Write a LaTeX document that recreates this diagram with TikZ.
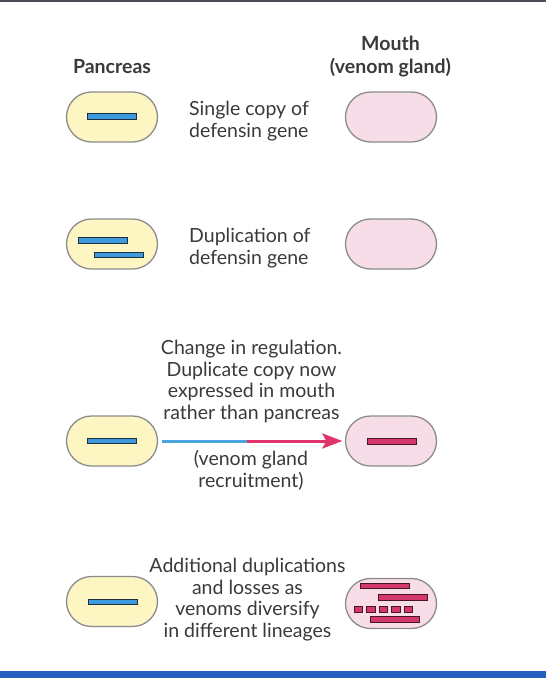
\documentclass[tikz,border=0pt]{standalone}
\usepackage{fontspec}
\setmainfont{Lato}
\usetikzlibrary{shapes.misc,arrows.meta}
\definecolor{txtc}{HTML}{3A3A3A}
\definecolor{capborder}{HTML}{8C8C8C}
\definecolor{pancfill}{HTML}{FDF5C2}
\definecolor{mouthfill}{HTML}{F7DDE7}
\definecolor{genebluefill}{HTML}{3D9BDD}
\definecolor{geneblueline}{HTML}{1E2F40}
\definecolor{generedfill}{HTML}{D3386A}
\definecolor{generedline}{HTML}{4A1527}
\definecolor{arrblue}{HTML}{4AA4E0}
\definecolor{arrred}{HTML}{E0336A}
\definecolor{topbar}{HTML}{474C57}
\definecolor{botbar}{HTML}{2560C0}
\begin{document}
\begin{tikzpicture}[x=1pt,y=-1pt,
  capsule/.style={rounded rectangle, draw=capborder, line width=1.3pt,
    minimum width=91pt, minimum height=50pt, inner sep=0pt},
  panc/.style={capsule, fill=pancfill},
  mouthcap/.style={capsule, fill=mouthfill},
  genebar/.style={rectangle, line width=0.8pt, minimum height=5.5pt, inner sep=0pt},
  bluebar/.style={genebar, draw=geneblueline, fill=genebluefill, minimum width=49pt},
  redbar/.style={genebar, draw=generedline, fill=generedfill, minimum width=49pt},
  reddash/.style={genebar, draw=generedline, fill=generedfill, minimum width=8.5pt},
  lbl/.style={font=\fontsize{19.5}{21.7}\selectfont, text=txtc, inner sep=0pt},
  hdr/.style={font=\fontsize{19.5}{23}\selectfont\bfseries, text=txtc, inner sep=0pt},
]
\useasboundingbox (0,0) rectangle (546,678);
\fill[white] (0,0) rectangle (546,678);
\fill[topbar] (0,0) rectangle (546,2.3);
\fill[botbar] (0,671) rectangle (546,678);

% headers
\node[hdr, anchor=base] (hp) at (112,73) {Pancreas};
\node[hdr, align=center, anchor=north] (hm) at (390.5,36) {Mouth\\(venom gland)};

% row 1
\node[panc] (p1) at (112,117) {};
\node[mouthcap] (m1) at (391,117) {};
\node[bluebar] (b1) at (111.5,116.5) {};
\node[lbl, align=left, anchor=north west] (t1) at (189,101) {Single copy of\\defensin gene};

% row 2
\node[panc] (p2) at (112,244) {};
\node[mouthcap] (m2) at (391,244) {};
\node[bluebar] (b2a) at (102.5,240.5) {};
\node[bluebar] (b2b) at (119,255) {};
\node[lbl, align=left, anchor=north west] (t2) at (189,228) {Duplication of\\defensin gene};

% row 3
\node[panc] (p3) at (112,441) {};
\node[mouthcap] (m3) at (391,441) {};
\node[bluebar] (b3) at (112,441) {};
\node[redbar] (r3) at (391.5,441.5) {};
\node[lbl, align=center, anchor=north] (t3) at (251.5,340) {Change in regulation.\\Duplicate copy now\\expressed in mouth\\rather than pancreas};
\node[lbl, align=center, anchor=north] (t3b) at (251,450) {(venom gland\\recruitment)};
\coordinate (mid) at (247,441);
\draw[arrblue, line width=3pt, shorten <=3.5pt] (p3.east) -- (mid);
\draw[arrred, line width=3pt, shorten >=2.5pt, -{Stealth[length=20pt,width=15pt,inset=4pt]}] (mid) -- (m3.west);

% row 4
\node[panc] (p4) at (112,601.5) {};
\node[mouthcap] (m4) at (391,603.5) {};
\node[bluebar] (b4) at (112.5,602) {};
\node[redbar] (r4a) at (384.5,586) {};
\node[redbar] (r4b) at (402.5,597.5) {};
\node[reddash] (d1) at (358.5,609.5) {};
\node[reddash] (d2) at (371,609.5) {};
\node[reddash] (d3) at (383.5,609.5) {};
\node[reddash] (d4) at (396,609.5) {};
\node[reddash] (d5) at (408.5,609.5) {};
\node[redbar] (r4c) at (395,619.5) {};
\node[lbl, align=center, anchor=north] (t4) at (247.5,558) {Additional duplications\\and losses as\\venoms diversify\\in different lineages};
\end{tikzpicture}
\end{document}
